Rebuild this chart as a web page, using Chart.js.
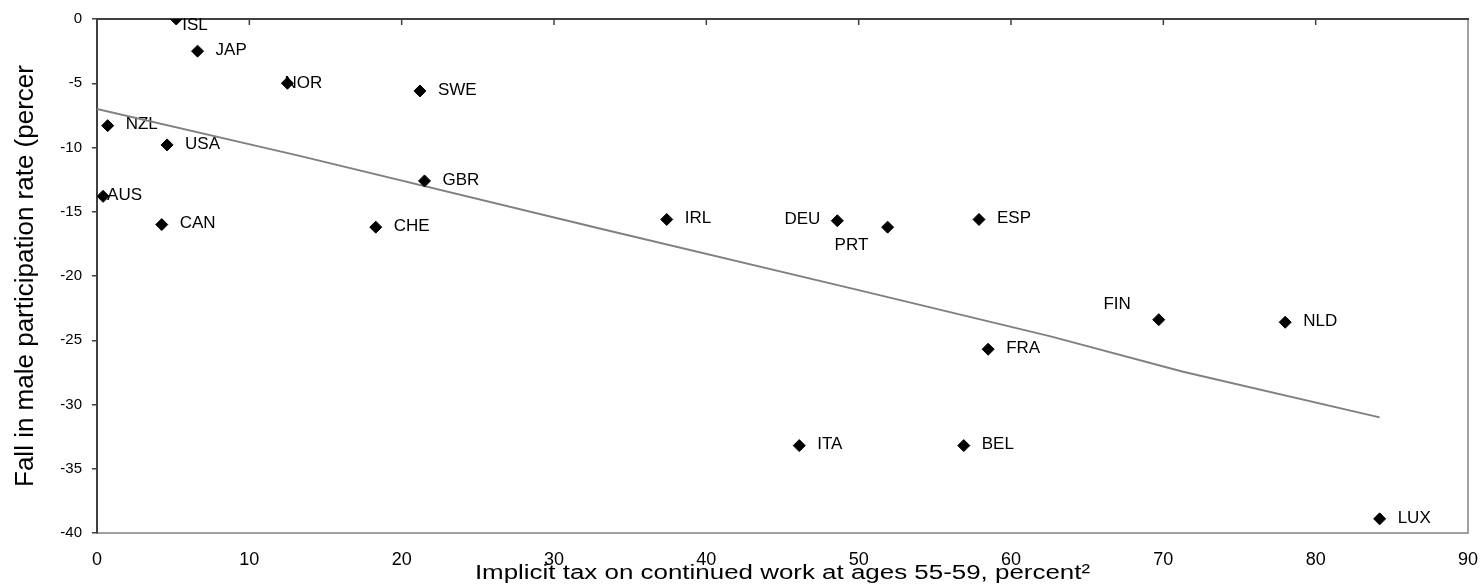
<!DOCTYPE html>
<html><head><meta charset="utf-8">
<script src="https://cdn.jsdelivr.net/npm/chart.js@4.4.0/dist/chart.umd.min.js"></script>
<style>html,body{margin:0;padding:0;background:#fff;}#wrap{width:1484px;height:586px;position:relative;}</style>
</head><body><div id="wrap"><canvas id="c"></canvas></div>
<script>
const countries = ['ISL','JAP','NOR','SWE','NZL','USA','GBR','AUS','CAN','CHE','IRL','DEU','PRT','ESP','FIN','NLD','FRA','ITA','BEL','LUX'];
const implicitTax = [5.2,6.6,12.5,21.2,0.7,4.6,21.5,0.4,4.25,18.3,37.4,48.6,51.9,57.9,69.7,78.0,58.5,46.1,56.9,84.2];
const participationFall = [0.0,-2.5,-5.0,-5.6,-8.3,-9.8,-12.6,-13.8,-16.0,-16.2,-15.6,-15.7,-16.2,-15.6,-23.4,-23.6,-25.7,-33.2,-33.2,-38.9];
const labelSide = ['in','r','onL','r','r','r','r','onR','r','r','r','l','below','r','aboveLeft','r','r','r','r','r'];
const trendX = [0, 13.3, 33.0, 50.0, 62.6, 71.3, 84.2];
const trendY = [-7.0, -10.65, -16.3, -21.1, -24.7, -27.45, -31.0];
const xTitle = 'Implicit tax on continued work at ages 55-59, percent²';
const yTitle = 'Fall in male participation rate (percer';

const FONT = "'Liberation Sans', Arial, sans-serif";

const framePlugin = {
  id: 'frame',
  beforeDatasetsDraw(chart) {
    const {ctx, chartArea: a, scales: {x}} = chart;
    ctx.save();
    ctx.lineWidth = 2;
    ctx.strokeStyle = '#a0a0a0';
    ctx.beginPath(); ctx.moveTo(a.right, a.top); ctx.lineTo(a.right, a.bottom); ctx.stroke();
    ctx.strokeStyle = '#404040';
    ctx.beginPath(); ctx.moveTo(a.left, a.top); ctx.lineTo(a.right + 1, a.top); ctx.stroke();
    ctx.lineWidth = 1.5;
    x.ticks.forEach(t => {
      if (t.value <= x.min || t.value >= x.max) return;
      const px = x.getPixelForValue(t.value);
      ctx.beginPath(); ctx.moveTo(px, a.top); ctx.lineTo(px, a.top + 6); ctx.stroke();
    });
    ctx.restore();
  }
};

const sideOffsets = {
  r: [18, -1, 'left'],
  l: [-17, -1, 'right'],
  below: [-53, 18, 'left'],
  aboveLeft: [-28, -15, 'right'],
  in: [6, 6, 'left'],
  onL: [-3, 0, 'left'],
  onR: [4, -1, 'left']
};

const labelPlugin = {
  id: 'pointLabels',
  beforeDatasetsDraw(chart) {
    const {ctx, scales: {x, y}} = chart;
    ctx.save();
    ctx.font = '17px ' + FONT;
    ctx.fillStyle = '#000';
    ctx.textBaseline = 'middle';
    countries.forEach((c, i) => {
      const px = x.getPixelForValue(implicitTax[i]);
      const py = y.getPixelForValue(participationFall[i]);
      const o = sideOffsets[labelSide[i]];
      ctx.textAlign = o[2];
      ctx.fillText(c, px + o[0], py + o[1]);
    });
    ctx.restore();
  }
};

// x-axis title: the reference renders it horizontally stretched
const xTitlePlugin = {
  id: 'xTitle',
  afterDraw(chart) {
    const {ctx, chartArea: a, scales: {x}} = chart;
    ctx.save();
    ctx.font = '20px ' + FONT;
    ctx.fillStyle = '#000';
    ctx.textAlign = 'center';
    ctx.textBaseline = 'alphabetic';
    ctx.translate((a.left + a.right) / 2, x.bottom - 7);
    ctx.scale(1.296, 1);
    ctx.fillText(xTitle, 0, 0);
    ctx.restore();
  }
};

new Chart(document.getElementById('c'), {
  type: 'scatter',
  data: {
    datasets: [
      {
        data: countries.map((c, i) => ({x: implicitTax[i], y: participationFall[i]})),
        pointStyle: 'rectRot', pointRadius: 6, pointHoverRadius: 6,
        backgroundColor: '#000', borderColor: '#000', borderWidth: 1,
        showLine: false
      },
      {
        data: trendX.map((v, i) => ({x: v, y: trendY[i]})),
        showLine: true, borderColor: '#808080', borderWidth: 2,
        pointRadius: 0, fill: false, tension: 0
      }
    ]
  },
  options: {
    responsive: true, maintainAspectRatio: false, animation: false,
    layout: {padding: {top: 19, right: 16, left: 0, bottom: 0}},
    plugins: {legend: {display: false}, tooltip: {enabled: false}},
    scales: {
      x: {
        type: 'linear', position: 'bottom', min: 0, max: 90,
        ticks: {stepSize: 10, color: '#000', font: {family: FONT, size: 18}, padding: 16, maxRotation: 0},
        grid: {display: false, drawTicks: false},
        border: {display: true, color: '#a0a0a0', width: 2},
        title: {display: false, text: xTitle},
        afterFit: s => { s.height = 53; s.paddingLeft = 0; s.paddingRight = 0; }
      },
      y: {
        type: 'linear', position: 'left', min: -40, max: 0,
        ticks: {stepSize: 5, color: '#000', font: {family: FONT, size: 15}, padding: 10},
        grid: {drawOnChartArea: false, drawTicks: true, tickLength: 5, color: '#404040', lineWidth: 1.5},
        border: {display: true, color: '#404040', width: 2},
        title: {display: true, text: yTitle, color: '#000', font: {family: FONT, size: 26}, padding: {top: 10, bottom: 0}},
        afterFit: s => { s.width = 97; }
      }
    }
  },
  plugins: [framePlugin, labelPlugin, xTitlePlugin]
});
</script>
</body></html>
